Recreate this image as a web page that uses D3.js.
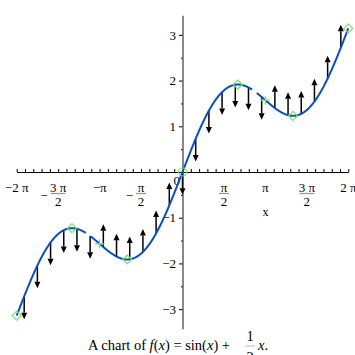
<!DOCTYPE html>
<html><head><meta charset="utf-8">
<script src="https://cdn.jsdelivr.net/npm/d3@7"></script>
<style>
html,body{margin:0;padding:0;background:#fff;}
svg text{font-family:"Liberation Serif","Times New Roman",serif;}
</style></head>
<body><svg id="c" width="355" height="355"></svg>
<script>
// ---- data ----
const PI = Math.PI;
const f = x => Math.sin(x) + x / 2;            // the plotted function (from the title)
const xDomain = [-2 * PI, 2 * PI];
const yDomain = [-3.43, 3.43];
const xTickMultiples = [-2, -1.5, -1, -0.5, 0, 0.5, 1, 1.5, 2];   // × π
const xTickLabels = ["−2 π", "−3 π/2", "−π", "−π/2", "0", "π/2", "π", "3 π/2", "2 π"];
const yTickValues = [-3, -2, -1, 1, 2, 3];
const yTickLabels = ["−3", "−2", "−1", "1", "2", "3"];
const arrowX = [-6, -5.5, -5, -4.5, -4, -3.5, -3, -2.5, -2, -1.5, -1, -0.5, 0,
                0.5, 1, 1.5, 2, 2.5, 3, 3.5, 4, 4.5, 5, 5.5, 6];
const arrowDir = [-1, -1, -1, -1, -1, -1, 1, 1, 1, 1, 1, 1, -1,
                  -1, -1, -1, -1, -1, -1, 1, 1, 1, 1, 1, 1];
const arrowLength = 0.5;
const diamondMultiples = [-2, -4 / 3, -2 / 3, 2 / 3, 4 / 3, 2];   // × π
const circleMultiples = [0];
const crossMultiples = [-1, 1];
const curveGaps = [[-3.66, -3.50], [2.64, 2.81]];

// ---- chart ----
const svg = d3.select("#c");
const x = d3.scaleLinear().domain(xDomain).range([16.7, 348.3]);
const y = d3.scaleLinear().domain(yDomain).range([328.8, 15.2]);
const x0 = x(0), y0 = y(0);

// x axis (ticks upward)
const minor = d3.range(-20, 21).map(k => k * PI / 10);
svg.append("g").attr("transform", `translate(0,${y0})`)
  .call(d3.axisTop(x).tickValues(minor).tickSize(3).tickFormat("").tickSizeOuter(0))
  .call(g => g.select(".domain").attr("stroke", "#000").attr("stroke-width", 1))
  .call(g => g.selectAll(".tick line").attr("stroke", "#000").attr("stroke-width", 1));

// y axis
svg.append("g").attr("transform", `translate(${x0},0)`)
  .call(d3.axisLeft(y).tickValues(d3.range(-3, 3.01, 0.5).filter(v => v !== 0 && !Number.isInteger(v)))
    .tickSize(1.5).tickFormat("").tickSizeOuter(0))
  .call(g => g.select(".domain").attr("stroke", "#888").attr("stroke-width", 2))
  .call(g => g.selectAll(".tick line").attr("stroke", "#000"));
const yAx = svg.append("g").attr("transform", `translate(${x0},0)`)
  .call(d3.axisLeft(y).tickValues(yTickValues).tickSize(3.5).tickPadding(3)
    .tickFormat((d, i) => yTickLabels[i]).tickSizeOuter(0));
yAx.select(".domain").remove();
yAx.selectAll(".tick line").attr("stroke", "#000");
yAx.selectAll(".tick text").attr("font-size", 13).attr("fill", "#000")
  .attr("font-family", "Liberation Serif, serif");

// x tick labels
const xl = svg.append("g").attr("font-size", 13).attr("fill", "#000");
xTickMultiples.forEach((m, i) => {
  const lab = xTickLabels[i];
  const cx = x(m * PI);
  if (lab === "0") {
    xl.append("text").attr("x", cx - 2.5).attr("y", y0 + 13).attr("text-anchor", "end").text("0");
  } else if (lab.includes("/")) {
    let s = lab, neg = false;
    if (s.startsWith("−")) { neg = true; s = s.slice(1); }
    const [num, den] = s.split("/");
    xl.append("text").attr("x", cx).attr("y", y0 + 19.5).attr("text-anchor", "middle").text(num);
    const w = num.length > 1 ? 15 : 10;
    xl.append("line").attr("x1", cx - w / 2).attr("x2", cx + w / 2)
      .attr("y1", y0 + 21.5).attr("y2", y0 + 21.5).attr("stroke", "#999").attr("stroke-width", 1.3);
    xl.append("text").attr("x", cx).attr("y", y0 + 33.5).attr("text-anchor", "middle").text(den);
    if (neg) xl.append("text").attr("x", cx - w / 2 - 3).attr("y", y0 + 27.5)
      .attr("text-anchor", "end").text("−");
  } else {
    xl.append("text").attr("x", cx).attr("y", y0 + 19.5).attr("text-anchor", "middle").text(lab);
  }
});
svg.append("text").attr("x", x(PI)).attr("y", y0 + 44).attr("text-anchor", "middle")
  .attr("font-size", 12).text("x");

// arrows
const ag = svg.append("g");
arrowX.forEach((ax, i) => {
  const px = x(ax), ys = y(f(ax)), ye = y(f(ax) + arrowDir[i] * arrowLength);
  const d = arrowDir[i];   // +1 up, -1 down
  const headLen = 6.5, headW = 3;
  const base = ye + d * headLen;
  ag.append("line").attr("x1", px).attr("x2", px).attr("y1", ys).attr("y2", base)
    .attr("stroke", "#000").attr("stroke-width", 1.5);
  ag.append("path").attr("d", `M${px},${ye}L${px - headW},${base}L${px + headW},${base}Z`)
    .attr("fill", "#000");
});

// curve
const samples = d3.range(xDomain[0], xDomain[1] + 1e-9, 0.01).concat([xDomain[1]]);
const inGap = v => curveGaps.some(g => v > g[0] && v < g[1]);
const line = d3.line().defined(d => !inGap(d)).x(d => x(d)).y(d => y(f(d)));
svg.append("path").datum(samples).attr("d", line).attr("fill", "none")
  .attr("stroke", "#0a4fc0").attr("stroke-width", 2);

// markers
const green = "#7ae26a";
const mg = svg.append("g").attr("fill", "none").attr("stroke", green).attr("stroke-width", 1.2);
diamondMultiples.forEach(m => {
  const px = x(m * PI), py = y(f(m * PI)), r = 4.5;
  mg.append("path").attr("d", `M${px},${py - r}L${px + r},${py}L${px},${py + r}L${px - r},${py}Z`);
});
circleMultiples.forEach(m => {
  mg.append("circle").attr("cx", x(m * PI)).attr("cy", y(f(m * PI))).attr("r", 4);
});
crossMultiples.forEach(m => {
  const px = x(m * PI), py = y(f(m * PI)), r = 4.5;
  mg.append("path").attr("d", `M${px - r},${py}H${px + r}M${px},${py - r}V${py + r}`);
});

// title
const t = svg.append("text").attr("font-size", 14.5).attr("fill", "#000");
const parts = [["A chart of ", 0], ["f", 1], ["(", 0], ["x", 1], [") = sin(", 0], ["x", 1], [") + ", 0]];
const t1 = t.attr("x", 88).attr("y", 350);
parts.forEach(p => t1.append("tspan").attr("font-style", p[1] ? "italic" : "normal").text(p[0]));
svg.append("text").attr("x", 250).attr("y", 341).attr("font-size", 14.5).attr("text-anchor", "middle").text("1");
svg.append("line").attr("x1", 245).attr("x2", 255).attr("y1", 346).attr("y2", 346).attr("stroke", "#bbb").attr("stroke-width", 1);
svg.append("text").attr("x", 250).attr("y", 362).attr("font-size", 14.5).attr("text-anchor", "middle").text("2");
const t2 = svg.append("text").attr("x", 258).attr("y", 350).attr("font-size", 14.5);
t2.append("tspan").attr("font-style", "italic").text("x");
t2.append("tspan").text(".");
</script></body></html>
